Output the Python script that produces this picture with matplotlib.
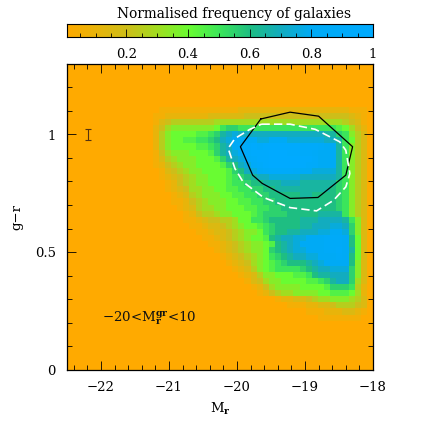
import numpy as np
import matplotlib
matplotlib.use("Agg")
import matplotlib.pyplot as plt
from matplotlib.colors import LinearSegmentedColormap

plt.rcParams['font.family'] = ['DejaVu Serif']
plt.rcParams['mathtext.fontset'] = 'dejavuserif'

# density cells in twentieths (base 21 digits, k = 1.0), rows top to bottom
density_rows = [
"00111 11111 11111 22222 22222 22222 22211 10",
"01122 22222 33333 34444 44444 44444 44432 10",
"01345 55555 56666 66666 66666 66666 66543 10",
"02467 77777 78abb aaaaa aaaaa aaaaa a9864 20",
"02578 88899 abdef eeeee eeeee eeeed dba75 30",
"02578 899aa bcefg gggff gggff ffffe eda85 30",
"02578 88899 abdeg hijij jjjjj iiihg gda75 30",
"01467 77888 9bdef gijjj kkkjj iihgg gda75 30",
"01356 77788 89bde fhijj kkkkk jjigg gda75 30",
"01245 67788 889bc efhij kkkkk jiigg gda75 30",
"00134 56778 8889b cefgh iiiih ggfff fda75 30",
"00123 45677 8889a bcdee fffff eeeee eda75 30",
"00012 45677 8889a abccd ddeee ddddd dba75 30",
"00012 34667 78899 aabbc cdddd ddddd cba75 30",
"00001 23567 77889 9aabb ccccc ddccc cba75 30",
"00001 12456 77788 99aab bcccc ccccc cba75 30",
"00000 12356 67788 899aa bbccc ccccc cba75 30",
"00000 01245 56778 889ab bbbcc cccdd dda75 30",
"00000 01123 44556 88aab ccccc dddee eeda7 30",
"00000 00112 33456 7889a bcccc ddeee ffeb7 30",
"00000 00011 23345 6778a bccdd eeeff ggfb7 30",
"00000 00001 12345 67889 cdeef fgggh hhgc8 30",
"00000 00000 11234 56778 9cdef ggggh hhgc8 30",
"00000 00000 01234 56778 bcdef fgggh higd8 30",
"00000 00000 00123 45678 abcde effgg ghgc8 30",
"00000 00000 00012 34678 9abcc cdefg gggc7 30",
"00000 00000 00001 23578 9aaaa bcdee fffb7 30",
"00000 00000 00000 12357 78889 9acdd eeeb7 30",
"00000 00000 00000 01346 77888 899ab deeb6 30",
"00000 00000 00000 00124 67777 88889 bbba5 20",
"00000 00000 00000 00012 45667 77788 99986 20",
"00000 00000 00000 00000 01223 34566 77765 30",
"00000 00000 00000 00000 00011 12233 45554 30",
"00000 00000 00000 00000 00000 01112 22332 10",
"00000 00000 00000 00000 00000 00011 11111 00",
]
first_row = 7
first_col = 13
n_cells = 50

black_x = [-19.65, -19.22, -18.80, -18.30, -18.40, -18.81, -19.22, -19.63, -19.77, -19.95, -19.65]
black_y = [1.066, 1.095, 1.078, 0.948, 0.827, 0.732, 0.728, 0.792, 0.827, 0.948, 1.066]
white_x = [-19.64, -19.22, -18.85, -18.49, -18.40, -18.34, -18.40, -18.58, -18.83, -19.22, -19.61, -19.91, -20.03, -20.13, -20.03, -19.81, -19.64]
white_y = [1.044, 1.044, 1.022, 0.969, 0.933, 0.834, 0.777, 0.720, 0.675, 0.689, 0.732, 0.798, 0.855, 0.941, 0.983, 1.022, 1.044]

err_x = -22.19
err_y = 1.0
err_size = 0.024

cbar_ticks = [0.2, 0.4, 0.6, 0.8, 1.0]
cbar_labels = ['0.2', '0.4', '0.6', '0.8', '1']

stops = [(0.0, (255, 170, 0)), (0.1, (232, 180, 10)), (0.2, (205, 190, 25)), (0.3, (160, 222, 32)),
         (0.4, (105, 252, 50)), (0.5, (60, 230, 90)), (0.6, (30, 190, 130)), (0.7, (18, 172, 190)),
         (0.8, (0, 170, 245)), (1.0, (0, 170, 255))]
cmap = LinearSegmentedColormap.from_list('gal', [(v, tuple(c / 255 for c in rgb)) for v, rgb in stops])

grid = np.zeros((n_cells, n_cells))
for j, row in enumerate(density_rows):
    for i, ch in enumerate(row.replace(' ', '')):
        grid[first_row + j, first_col + i] = int(ch, 21) / 20

W = H = 436
fig = plt.figure(figsize=(W / 100, H / 100), dpi=100)
ax = fig.add_axes([67 / W, 1 - 369.5 / H, 306 / W, 305.5 / H])
x_edges = np.linspace(-22.5, -18, n_cells + 1)
y_edges = np.linspace(1.3, 0, n_cells + 1)
ax.pcolormesh(x_edges, y_edges, grid, cmap=cmap, vmin=0, vmax=1, linewidth=0, rasterized=True)
ax.plot(black_x, black_y, color='black', lw=0.9)
ax.plot(white_x, white_y, color='white', lw=1.2, dashes=(5, 2.5))
ax.errorbar([err_x], [err_y], yerr=[err_size], color='#553311', lw=0.8, capsize=2, capthick=0.8)
ax.set_xlim(-22.5, -18)
ax.set_ylim(0, 1.3)
ax.set_xticks([-22, -21, -20, -19, -18])
ax.set_xticklabels(['\u221222', '\u221221', '\u221220', '\u221219', '\u221218'])
ax.set_yticks([0, 0.5, 1])
ax.set_yticklabels(['0', '0.5', '1'])
ax.set_xticks(np.arange(-22.4, -18, 0.2), minor=True)
ax.set_yticks(np.arange(0.1, 1.3, 0.1), minor=True)
ax.tick_params(which='major', direction='in', top=True, right=True, length=6.5, width=0.6, labelsize=9.5, pad=8)
ax.tick_params(which='minor', direction='in', top=True, right=True, length=3.3, width=0.6)
for s in ax.spines.values():
    s.set_linewidth(0.9)
ax.set_xlabel(r'M$_{\mathbf{r}}$', fontsize=9.5, labelpad=5)
ax.set_ylabel('g\u2212r', fontsize=9.5, labelpad=8)
ax.text(-21.985, 0.2175, r'$-$20<M$_{\mathbf{r}}^{\mathbf{gr}}$<10', fontsize=9.6, va='center', ha='left', color='#111111')

cax = fig.add_axes([67 / W, 1 - 37 / H, 306 / W, 13 / H])
vals = np.linspace(0.007, 1, 256)[None, :]
cax.imshow(vals, aspect='auto', cmap=cmap, vmin=0, vmax=1, extent=[0.007, 1, 0, 1])
cax.set_xlim(0.007, 1)
cax.set_yticks([])
cax.set_xticks(cbar_ticks)
cax.set_xticklabels(cbar_labels)
cax.set_xticks(np.arange(0.05, 1, 0.05), minor=True)
cax.tick_params(which='major', direction='in', length=6, width=0.6, labelsize=9.5, pad=8)
cax.tick_params(which='minor', direction='in', length=3, width=0.6)
for s in cax.spines.values():
    s.set_linewidth(0.8)
cax.set_title('Normalised frequency of galaxies', fontsize=9.9, pad=4, x=0.546)

fig.savefig('out.png', dpi=100)
